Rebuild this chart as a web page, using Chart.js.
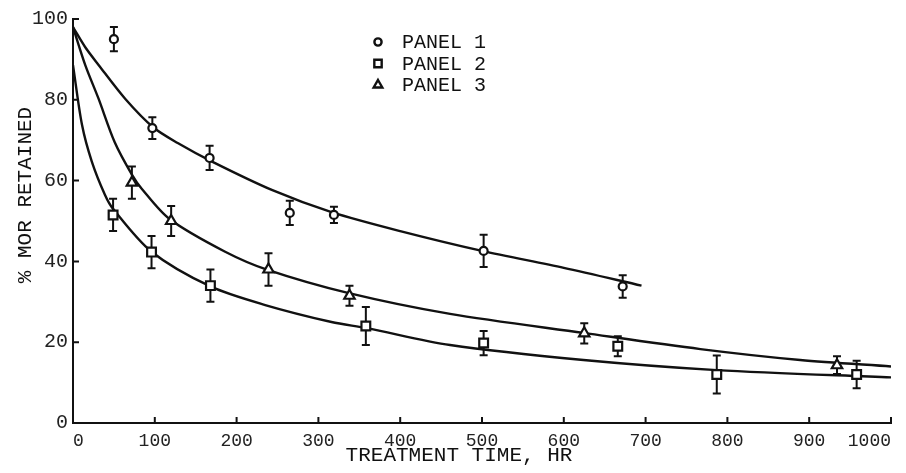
<!DOCTYPE html>
<html>
<head>
<meta charset="utf-8">
<script src="https://cdn.jsdelivr.net/npm/chart.js@4/dist/chart.umd.min.js"></script>
<style>
  html, body { margin: 0; padding: 0; background: #fff; }
  #wrap { width: 906px; height: 473px; }
</style>
</head>
<body>
<div id="wrap"><canvas id="morChart"></canvas></div>
<script>
// x ticks and y ticks
const xTicks = [0, 100, 200, 300, 400, 500, 600, 700, 800, 900, 1000];
const yTicks = [0, 20, 40, 60, 80, 100];

// measured points (hours, % MOR retained, error half-width)
const p1Hours = [50, 97, 167, 265, 319, 502, 672];
const p1Mor = [95, 73, 65.6, 52, 51.5, 42.6, 33.8];
const p1Err = [3, 2.7, 3, 3, 2, 4, 2.8];

const p2Hours = [49, 96, 168, 358, 502, 666, 787, 958];
const p2Mor = [51.5, 42.3, 34, 24, 19.8, 19, 12, 12];
const p2Err = [4, 4, 4, 4.7, 3, 2.5, 4.7, 3.4];

const p3Hours = [72, 120, 239, 338, 625, 934];
const p3Mor = [59.5, 50, 38, 31.5, 22.2, 14.3];
const p3Err = [4, 3.7, 4, 2.5, 2.5, 2.2];

// fitted curves
const fit1Hours = [0, 15, 31, 64, 98, 128, 170, 243, 316, 400, 500, 600, 695];
const fit1Mor = [98, 93, 88.7, 80.2, 73.2, 69.3, 64.7, 57.7, 52.2, 47.5, 42.6, 38.4, 34];
const fit2Hours = [0, 11, 23, 39, 49, 96, 168, 235, 316, 359, 461, 624, 787, 1000];
const fit2Mor = [88.6, 73.8, 64.7, 56.5, 53, 42.4, 33.8, 29.2, 25, 23.5, 19.3, 15.6, 13.1, 11.3];
const fit3Hours = [0, 15, 31, 51, 72, 84, 118, 186, 238, 336, 461, 624, 767, 889, 1000];
const fit3Mor = [98, 88.6, 80.4, 69.5, 61.5, 58, 50.5, 42.4, 37.9, 32.2, 27, 22.3, 18.3, 15.6, 14];

const legendLabels = ["PANEL 1", "PANEL 2", "PANEL 3"];
const xTitle = "TREATMENT TIME, HR";
const yTitle = "% MOR RETAINED";

const FONT = "'Liberation Mono', 'DejaVu Sans Mono', monospace";
const INK = "#111";

function pts(xs, ys) { return xs.map((x, i) => ({ x: x, y: ys[i] })); }

function markerSet(label, xs, ys, errs, style, radius) {
  return {
    type: "scatter", label: label, data: pts(xs, ys), errs: errs,
    pointStyle: style, pointRadius: radius, pointBorderWidth: 2.2,
    pointBackgroundColor: "#fff", pointBorderColor: INK, order: 0
  };
}

function curveSet(xs, ys) {
  return {
    type: "line", data: pts(xs, ys), borderColor: INK, borderWidth: 2.4,
    pointRadius: 0, tension: 0.3, fill: false, order: 1
  };
}

// error bars, inward ticks, axis titles and the legend box
const extras = {
  id: "extras",
  beforeDatasetsDraw(chart) {
    const ctx = chart.ctx, xs = chart.scales.x, ys = chart.scales.y;
    ctx.save();
    ctx.strokeStyle = INK;
    ctx.lineWidth = 2;
    chart.data.datasets.forEach(ds => {
      if (!ds.errs) return;
      ds.data.forEach((p, i) => {
        const px = xs.getPixelForValue(p.x);
        const top = ys.getPixelForValue(p.y + ds.errs[i]);
        const bot = ys.getPixelForValue(p.y - ds.errs[i]);
        ctx.beginPath();
        ctx.moveTo(px, top); ctx.lineTo(px, bot);
        ctx.moveTo(px - 4, top); ctx.lineTo(px + 4, top);
        ctx.moveTo(px - 4, bot); ctx.lineTo(px + 4, bot);
        ctx.stroke();
      });
    });
    ctx.restore();
  },
  afterDraw(chart) {
    const ctx = chart.ctx, xs = chart.scales.x, ys = chart.scales.y;
    const area = chart.chartArea;
    ctx.save();
    ctx.strokeStyle = INK;
    ctx.lineWidth = 2;
    ctx.beginPath();
    xTicks.forEach(v => {
      const px = xs.getPixelForValue(v);
      ctx.moveTo(px, area.bottom); ctx.lineTo(px, area.bottom - 6);
    });
    yTicks.forEach(v => {
      const py = ys.getPixelForValue(v);
      ctx.moveTo(area.left, py); ctx.lineTo(area.left + 6, py);
    });
    ctx.stroke();

    ctx.fillStyle = INK;
    ctx.font = "21px " + FONT;
    ctx.textAlign = "center";
    ctx.textBaseline = "middle";
    ctx.fillText(xTitle, 459, 455);
    ctx.save();
    ctx.translate(25, 195);
    ctx.rotate(-Math.PI / 2);
    ctx.fillText(yTitle, 0, 0);
    ctx.restore();

    // legend
    const styles = ["circle", "rect", "triangle"];
    const radii = [3.6, 5.2, 5];
    ctx.font = "20px " + FONT;
    ctx.textAlign = "left";
    legendLabels.forEach((txt, i) => {
      const y = 42 + i * 21.5;
      ctx.lineWidth = 2.4;
      ctx.strokeStyle = INK;
      ctx.fillStyle = "#fff";
      Chart.helpers.drawPoint(ctx, { pointStyle: styles[i], radius: radii[i], borderWidth: 2.4 }, 378, y);
      ctx.fillStyle = INK;
      ctx.fillText(txt, 402, y + 1);
    });
    ctx.restore();
  }
};

const ctx = document.getElementById("morChart").getContext("2d");

new Chart(ctx, {
  data: {
    datasets: [
      markerSet(legendLabels[0], p1Hours, p1Mor, p1Err, "circle", 4),
      markerSet(legendLabels[1], p2Hours, p2Mor, p2Err, "rect", 6.2),
      markerSet(legendLabels[2], p3Hours, p3Mor, p3Err, "triangle", 6),
      curveSet(fit1Hours, fit1Mor),
      curveSet(fit2Hours, fit2Mor),
      curveSet(fit3Hours, fit3Mor)
    ]
  },
  options: {
    responsive: true,
    maintainAspectRatio: false,
    animation: false,
    layout: { padding: { top: 19, right: 15, left: 0, bottom: 0 } },
    plugins: { legend: { display: false }, tooltip: { enabled: false } },
    scales: {
      x: {
        type: "linear", min: 0, max: 1000,
        afterFit: s => { s.height = 50; s.paddingLeft = 0; s.paddingRight = 0; },
        afterBuildTicks: s => { s.ticks = xTicks.map(v => ({ value: v })); },
        grid: { display: false, drawTicks: false },
        border: { display: true, color: INK, width: 2 },
        ticks: { align: "inner", padding: 7, color: "#222", font: { family: FONT, size: 18 },
                 callback: v => String(v) }
      },
      y: {
        type: "linear", min: 0, max: 100,
        afterFit: s => { s.width = 73; },
        afterBuildTicks: s => { s.ticks = yTicks.map(v => ({ value: v })); },
        grid: { display: false, drawTicks: false },
        border: { display: true, color: INK, width: 2 },
        ticks: { padding: 5, color: "#222", font: { family: FONT, size: 20 },
                 callback: v => String(v) }
      }
    }
  },
  plugins: [extras]
});
</script>
</body>
</html>
